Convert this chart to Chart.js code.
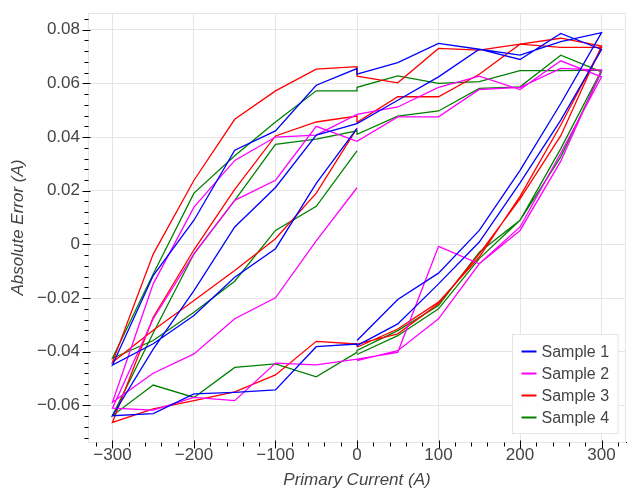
<!DOCTYPE html>
<html>
<head>
<meta charset="utf-8">
<script src="https://cdn.jsdelivr.net/npm/chart.js@4.4.3/dist/chart.umd.min.js"></script>
<style>
  html, body { margin: 0; padding: 0; background: #fff; }
  #wrap { width: 627px; height: 491px; }
</style>
</head>
<body>
<div id="wrap"><canvas id="error-chart" width="627" height="491"></canvas></div>
<script>
// Primary current sweep: 0 -> +300 -> 0, 0 -> -300 -> 0, repeated twice
const currents = [
  0, 50, 100, 150, 200, 250, 300, 250, 200, 150, 100, 50, 0,
  0, -50, -100, -150, -200, -250, -300, -250, -200, -150, -100, -50, 0,
  0, 50, 100, 150, 200, 250, 300, 250, 200, 150, 100, 50, 0,
  0, -50, -100, -150, -200, -250, -300, -250, -200, -150, -100, -50, 0
];

const sampleNames = ["Sample 1", "Sample 2", "Sample 3", "Sample 4"];
const sampleColors = ["#0000ff", "#ff00ff", "#ff0000", "#008000"];

const sample1 = [
  -0.0358, -0.0205, -0.0107, 0.0052, 0.0276, 0.0525, 0.0789, 0.0755, 0.0705, 0.0727, 0.0624, 0.0537, 0.0450,
  0.0450, 0.0407, 0.0212, 0.0065, -0.0172, -0.0390, -0.0638, -0.0630, -0.0557, -0.0551, -0.0542, -0.0381, -0.0371,
  -0.0377, -0.0296, -0.0147, 0.0009, 0.0229, 0.0463, 0.0726, 0.0786, 0.0689, 0.0727, 0.0749, 0.0677, 0.0634,
  0.0655, 0.0593, 0.0423, 0.0351, 0.0090, -0.0116, -0.0449, -0.0370, -0.0265, -0.0122, -0.0016, 0.0227, 0.0432
];
const sample2 = [
  -0.0433, -0.0396, -0.0277, -0.0072, 0.0052, 0.0310, 0.0649, 0.0656, 0.0585, 0.0577, 0.0475, 0.0475, 0.0384,
  0.0384, 0.0440, 0.0239, 0.0164, -0.0035, -0.0277, -0.0610, -0.0617, -0.0570, -0.0582, -0.0442, -0.0449, -0.0427,
  -0.0427, -0.0402, -0.0007, -0.0072, 0.0065, 0.0340, 0.0624, 0.0684, 0.0577, 0.0627, 0.0585, 0.0512, 0.0484,
  0.0484, 0.0407, 0.0400, 0.0313, 0.0139, -0.0147, -0.0588, -0.0480, -0.0408, -0.0277, -0.0199, 0.0013, 0.0211
];
const sample3 = [
  -0.0383, -0.0315, -0.0215, -0.0047, 0.0179, 0.0445, 0.0734, 0.0734, 0.0746, 0.0634, 0.0550, 0.0550, 0.0455,
  0.0478, 0.0456, 0.0404, 0.0205, -0.0020, -0.0271, -0.0663, -0.0613, -0.0582, -0.0549, -0.0486, -0.0361, -0.0371,
  -0.0371, -0.0333, -0.0221, -0.0035, 0.0170, 0.0405, 0.0739, 0.0768, 0.0746, 0.0724, 0.0730, 0.0602, 0.0627,
  0.0662, 0.0653, 0.0572, 0.0466, 0.0239, -0.0036, -0.0439, -0.0320, -0.0209, -0.0097, 0.0021, 0.0191, 0.0432
];
const sample4 = [
  -0.0410, -0.0340, -0.0240, -0.0053, 0.0090, 0.0326, 0.0643, 0.0705, 0.0587, 0.0581, 0.0497, 0.0478, 0.0410,
  0.0423, 0.0392, 0.0373, 0.0164, -0.0035, -0.0330, -0.0638, -0.0524, -0.0570, -0.0458, -0.0445, -0.0493, -0.0402,
  -0.0395, -0.0321, -0.0228, -0.0029, 0.0090, 0.0357, 0.0649, 0.0647, 0.0647, 0.0606, 0.0600, 0.0628, 0.0585,
  0.0572, 0.0572, 0.0456, 0.0330, 0.0191, -0.0110, -0.0424, -0.0358, -0.0253, -0.0137, 0.0052, 0.0142, 0.0348
];
const sampleValues = [sample1, sample2, sample3, sample4];

const xTicks = [-300, -200, -100, 0, 100, 200, 300];
const yTicks = [-0.06, -0.04, -0.02, 0, 0.02, 0.04, 0.06, 0.08];
const xTitle = "Primary Current (A)";
const yTitle = "Absolute Error (A)";

const FONT = "'Liberation Sans', Arial, Helvetica, sans-serif";
const TEXT = "#444444";
const GRID = "#e5e5e5";
const MINUS = "\u2212";

function fmtX(v) {
  return v < 0 ? MINUS + Math.abs(v) : String(v);
}
function fmtY(v) {
  if (Math.abs(v) < 1e-9) return "0";
  return (v < 0 ? MINUS : "") + Math.abs(v).toFixed(2);
}

// major + minor tick marks, plus the light plot outline
const axisDecor = {
  id: "axisDecor",
  beforeDatasetsDraw(chart) {
    const { ctx, chartArea: a } = chart;
    ctx.save();
    ctx.strokeStyle = GRID;
    ctx.lineWidth = 1;
    ctx.strokeRect(Math.round(a.left) + 0.5, Math.round(a.top) + 0.5,
      Math.round(a.right - a.left) - 1, Math.round(a.bottom - a.top));
    ctx.restore();
  },
  afterDraw(chart) {
    const { ctx, chartArea: a, scales } = chart;
    const xs = scales.x, ys = scales.y;
    ctx.save();
    ctx.strokeStyle = "#000";
    ctx.lineWidth = 1;
    ctx.beginPath();
    const bottom = Math.round(a.bottom) + 0.5;
    for (let k = -16; k <= 16; k++) {
      const v = k * 20;
      const px = Math.round(xs.getPixelForValue(v)) + 0.5;
      if (px < a.left || px > a.right) continue;
      const major = k % 5 === 0;
      ctx.moveTo(px, bottom - (major ? 2 : 0));
      ctx.lineTo(px, bottom + (major ? 6 : 4));
    }
    const left = Math.round(a.left) + 0.5;
    for (let k = -18; k <= 21; k++) {
      const v = k * 0.004;
      const py = Math.round(ys.getPixelForValue(v)) + 0.5;
      if (py < a.top || py > a.bottom) continue;
      const major = k % 5 === 0;
      ctx.moveTo(left + (major ? 2 : 0), py);
      ctx.lineTo(left - (major ? 6 : 4), py);
    }
    ctx.stroke();
    ctx.restore();
  }
};

// legend box in the lower right of the plot area
const cornerLegend = {
  id: "cornerLegend",
  afterDraw(chart) {
    const { ctx, chartArea: a } = chart;
    const sets = chart.data.datasets;
    const rowH = 22, padX = 9, glyphW = 15, gap = 5;
    ctx.save();
    ctx.font = "16px " + FONT;
    let textW = 0;
    sets.forEach(d => { textW = Math.max(textW, ctx.measureText(d.label).width); });
    const w = padX + glyphW + gap + textW + padX;
    const h = rowH * sets.length + 11;
    const x0 = Math.round(a.right - 8 - w) + 0.5;
    const y0 = Math.round(a.bottom - 9 - h) + 0.5;
    ctx.fillStyle = "rgba(255,255,255,0.95)";
    ctx.fillRect(x0, y0, w, h);
    ctx.strokeStyle = GRID;
    ctx.lineWidth = 1;
    ctx.strokeRect(x0, y0, w, h);
    ctx.textBaseline = "middle";
    ctx.textAlign = "left";
    sets.forEach((d, i) => {
      const cy = y0 + 6 + rowH / 2 + i * rowH;
      ctx.strokeStyle = d.borderColor;
      ctx.lineWidth = 2;
      ctx.beginPath();
      ctx.moveTo(x0 + padX, cy);
      ctx.lineTo(x0 + padX + glyphW, cy);
      ctx.stroke();
      ctx.fillStyle = TEXT;
      ctx.fillText(d.label, x0 + padX + glyphW + gap, cy + 1);
    });
    ctx.restore();
  }
};

const datasets = sampleNames.map((name, i) => ({
  label: name,
  data: currents.map((c, j) => ({ x: c, y: sampleValues[i][j] })),
  borderColor: sampleColors[i],
  backgroundColor: sampleColors[i],
  borderWidth: 1.3,
  pointRadius: 0,
  showLine: true,
  tension: 0,
  fill: false
}));

new Chart(document.getElementById("error-chart"), {
  type: "scatter",
  data: { datasets },
  options: {
    responsive: false,
    devicePixelRatio: 1,
    animation: false,
    layout: { padding: { top: 13, right: 1, left: 0, bottom: 0 } },
    plugins: { legend: { display: false }, tooltip: { enabled: false } },
    scales: {
      x: {
        type: "linear",
        min: -330,
        max: 330,
        afterBuildTicks: s => { s.ticks = xTicks.map(v => ({ value: v })); },
        afterFit: s => { s.height = 49; s.paddingLeft = 0; s.paddingRight = 0; },
        grid: { color: GRID, lineWidth: 1, drawTicks: false },
        border: { display: true, color: "#000", width: 1 },
        ticks: {
          padding: 3,
          maxRotation: 0,
          color: TEXT,
          font: { family: FONT, size: 17 },
          callback: v => fmtX(v)
        },
        title: {
          display: true,
          text: xTitle,
          color: TEXT,
          font: { family: FONT, size: 17, style: "italic" },
          padding: { top: 0, bottom: 1 }
        }
      },
      y: {
        type: "linear",
        min: -0.0736,
        max: 0.0862,
        afterBuildTicks: s => { s.ticks = yTicks.map(v => ({ value: v })); },
        afterFit: s => { s.width = 88; s.paddingTop = 0; s.paddingBottom = 0; },
        grid: { color: GRID, lineWidth: 1, drawTicks: false },
        border: { display: true, color: "#000", width: 1 },
        ticks: {
          padding: 8,
          color: TEXT,
          font: { family: FONT, size: 17 },
          callback: v => fmtY(v)
        },
        title: {
          display: true,
          text: yTitle,
          color: TEXT,
          font: { family: FONT, size: 17, style: "italic" },
          padding: { top: 8, bottom: 0 }
        }
      }
    }
  },
  plugins: [axisDecor, cornerLegend]
});
</script>
</body>
</html>
